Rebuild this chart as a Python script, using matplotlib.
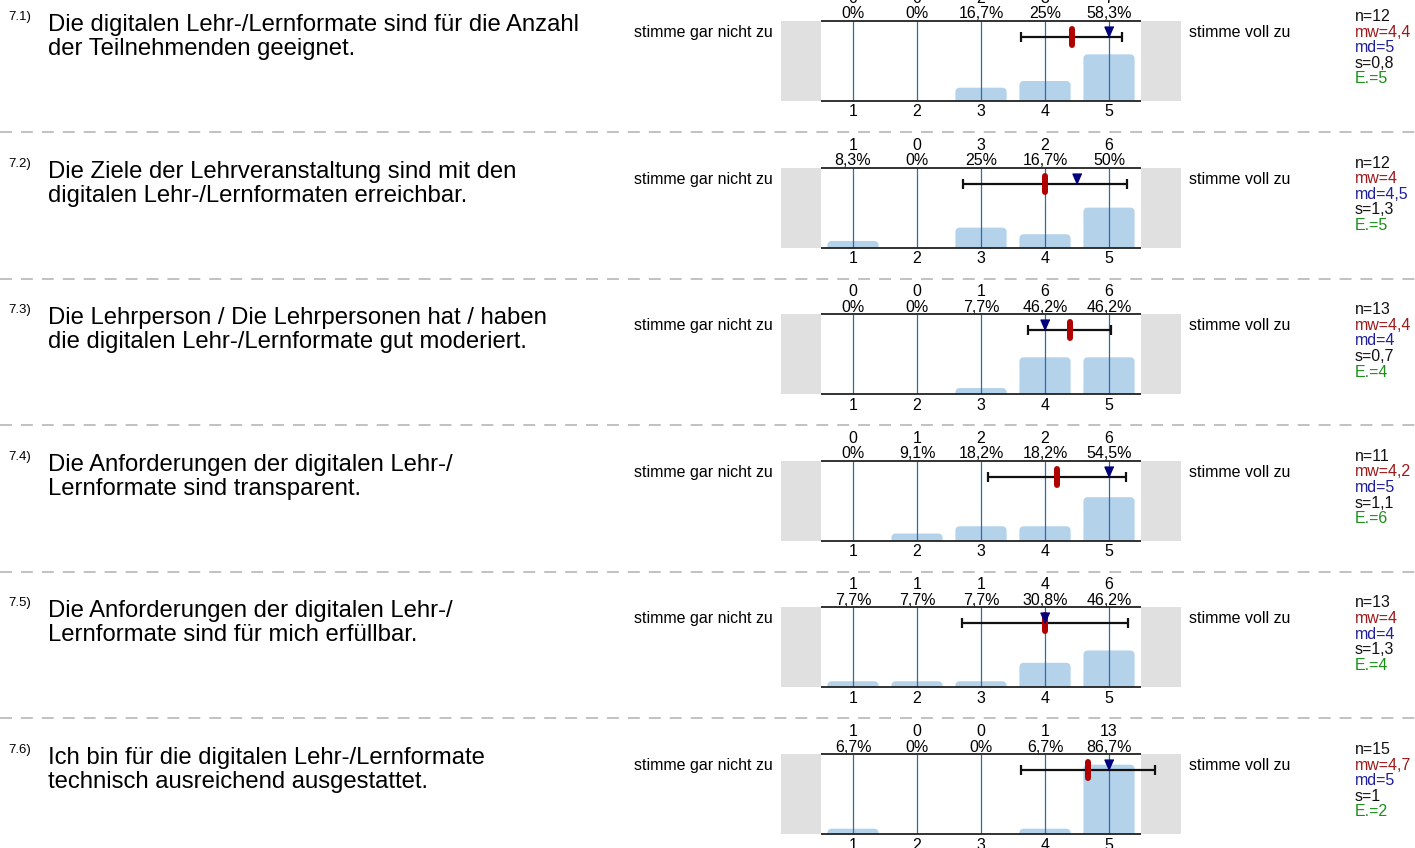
import numpy as np
import matplotlib
matplotlib.use('Agg')
import matplotlib.pyplot as plt
from matplotlib.lines import Line2D
from matplotlib.patches import FancyBboxPatch, Rectangle

plt.rcParams['font.family'] = ['Liberation Sans', 'DejaVu Sans']

QUESTION_IDS = ['7.1)', '7.2)', '7.3)', '7.4)', '7.5)', '7.6)']
QUESTIONS = [
    'Die digitalen Lehr-/Lernformate sind für die Anzahl\nder Teilnehmenden geeignet.',
    'Die Ziele der Lehrveranstaltung sind mit den\ndigitalen Lehr-/Lernformaten erreichbar.',
    'Die Lehrperson / Die Lehrpersonen hat / haben\ndie digitalen Lehr-/Lernformate gut moderiert.',
    'Die Anforderungen der digitalen Lehr-/\nLernformate sind transparent.',
    'Die Anforderungen der digitalen Lehr-/\nLernformate sind für mich erfüllbar.',
    'Ich bin für die digitalen Lehr-/Lernformate\ntechnisch ausreichend ausgestattet.',
]
SCALE = [1, 2, 3, 4, 5]
COUNTS = [
    [0, 0, 2, 3, 7],
    [1, 0, 3, 2, 6],
    [0, 0, 1, 6, 6],
    [0, 1, 2, 2, 6],
    [1, 1, 1, 4, 6],
    [1, 0, 0, 1, 13],
]
ABSTENTIONS = [5, 5, 4, 6, 4, 2]
LEFT_POLE = 'stimme gar nicht zu'
RIGHT_POLE = 'stimme voll zu'

W, H = 1415, 848
PT = 0.72  # px -> pt at 100 dpi
FS = 11.5

BAR_C = '#b4d3eb'
LINE_C = '#2f6aad'
GRAY_C = '#e0e0e0'
MEAN_C = '#b00000'
MED_C = '#00007f'
STAT_COLORS = ['#111111', '#9c1a1a', '#1f1f99', '#111111', '#1a8f1a']


def fmt(v):
    s = f'{v:.1f}'.replace('.', ',')
    return s[:-2] if s.endswith(',0') else s


fig = plt.figure(figsize=(W / 100, H / 100), dpi=100)

for i, (qid, question, counts, abst) in enumerate(
        zip(QUESTION_IDS, QUESTIONS, COUNTS, ABSTENTIONS)):
    top = 21 + i * 146.6
    counts = np.array(counts)
    n = counts.sum()
    pct = counts / n * 100
    values = np.repeat(SCALE, counts)
    mean = values.mean()
    median = np.median(values)
    sd = values.std(ddof=1)

    ax = fig.add_axes([781 / W, 1 - (top + 80) / H, 400 / W, 80 / H])
    ax.set_xlim(-0.125, 6.125)
    ax.set_ylim(0, 100)
    ax.axis('off')

    ax.add_patch(Rectangle((-0.125, 0), 0.625, 100, fc=GRAY_C, ec='none'))
    ax.add_patch(Rectangle((5.5, 0), 0.625, 100, fc=GRAY_C, ec='none'))

    for x, p in zip(SCALE, pct):
        if p > 0:
            ax.add_patch(FancyBboxPatch(
                (x - 0.4, -6), 0.8, p + 6,
                boxstyle='round,pad=0,rounding_size=0.07',
                mutation_aspect=80, fc=BAR_C, ec='none', zorder=2))

    ax.vlines(SCALE, 0, 100, color=LINE_C, lw=0.9, zorder=3)
    ax.hlines([0, 100], 0.5, 5.5, color='#222222', lw=1.3, zorder=4,
              clip_on=False)

    ax.errorbar(mean, 80, xerr=sd, fmt='none', ecolor='#111111',
                elinewidth=1.6, capsize=3.6, capthick=1.6, zorder=5)
    ax.plot([mean, mean], [70, 90], color=MEAN_C, lw=4.3,
            solid_capstyle='round', zorder=6)
    ax.plot([median], [80], marker=[(0, 0), (-0.43, 1), (0.43, 1)], ms=15,
            color=MED_C, ls='none', zorder=7)

    for x, c, p in zip(SCALE, counts, pct):
        ax.annotate(str(c), (x, 100), xytext=(0, 18 * PT),
                    textcoords='offset points', ha='center', va='baseline',
                    fontsize=FS, annotation_clip=False)
        ax.annotate(fmt(p) + '%', (x, 100), xytext=(0, 2.5 * PT),
                    textcoords='offset points', ha='center', va='baseline',
                    fontsize=FS, annotation_clip=False)
        ax.annotate(str(x), (x, 0), xytext=(0, -15.5 * PT),
                    textcoords='offset points', ha='center', va='baseline',
                    fontsize=FS, annotation_clip=False)

    fig.text(773 / W, 1 - (top + 16) / H, LEFT_POLE, ha='right',
             va='baseline', fontsize=FS)
    fig.text(1189 / W, 1 - (top + 16) / H, RIGHT_POLE, ha='left',
             va='baseline', fontsize=FS)

    stats = [f'n={n}', f'mw={fmt(mean)}', f'md={fmt(median)}',
             f's={fmt(sd)}', f'E.={abst}']
    for k, (s, col) in enumerate(zip(stats, STAT_COLORS)):
        fig.text(1355 / W, 1 - (top + 15.6 * k) / H, s, ha='left',
                 va='baseline', fontsize=FS, color=col)

    fig.text(8 / W, 1 - (top - 1) / H, qid, ha='left', va='baseline',
             fontsize=9.5)
    for k, line in enumerate(question.split('\n')):
        fig.text(48 / W, 1 - (top + 10 + 24 * k) / H, line, ha='left',
                 va='baseline', fontsize=17.2)

    if i < len(QUESTIONS) - 1:
        y = 1 - (top + 111) / H
        fig.add_artist(Line2D([0, 1], [y, y], transform=fig.transFigure,
                              color='#b0b0b0', lw=1.1,
                              linestyle=(0, (7.8, 5.9))))

fig.savefig('out.png', dpi=100)
